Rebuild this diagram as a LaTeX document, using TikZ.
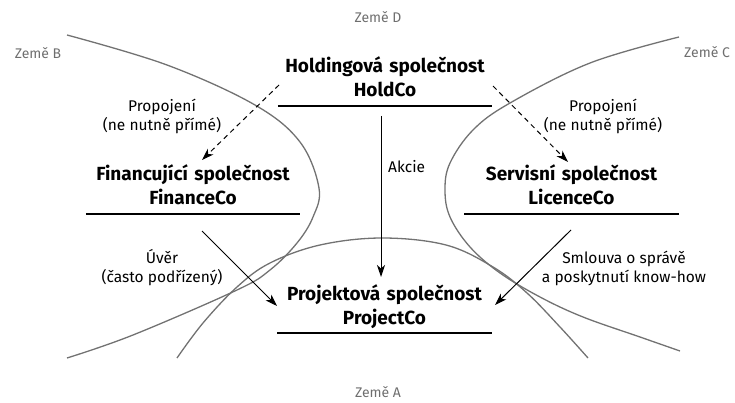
\documentclass[tikz,border=0pt]{standalone}
\usepackage{fontspec}
\setmainfont{Fira Sans}
\usetikzlibrary{arrows.meta,calc}
\definecolor{bordergray}{HTML}{727272}
\definecolor{countrytext}{HTML}{6E6E6E}

\begin{document}
\begin{tikzpicture}[x=1pt,y=-1pt,
  company/.style={font=\fontsize{19}{24}\selectfont\bfseries, text width=214pt,
                  align=center, inner sep=0pt, anchor=base},
  note/.style={font=\fontsize{15.5}{19}\selectfont, align=center, inner sep=0pt, anchor=base},
  country/.style={font=\fontsize{14}{16}\selectfont, text=countrytext, inner sep=0pt},
  border/.style={draw=bordergray, line width=1.3pt},
  underline/.style={line width=1.3pt},
  link/.style={line width=1pt, -{Stealth[length=12pt,width=8pt,inset=3.5pt]}},
  indirect/.style={link, dash pattern=on 5pt off 4pt},
]
\useasboundingbox (0,0) rectangle (735,403);

% country borders
\draw[border] plot[smooth, tension=0.6] coordinates {
  (67,35) (167,65) (255,105) (300,142) (319,188) (313,217)
  (297,243) (270,270) (237,290) (133,335) (67,358)};
\draw[border] plot[smooth, tension=0.6] coordinates {
  (679,37) (590,63) (510,103) (473,130) (450,163) (445,190) (450,217)
  (470,247) (500,273) (540,297) (583,317) (640,337) (680,351)};
\draw[border] plot[smooth, tension=0.6] coordinates {
  (177,358) (203,323) (237,287) (270,263) (320,245) (382,238) (446,245)
  (493,267) (527,293) (560,327) (588,358)};

% country names
\node[country] (zoneD) at (378,17) {Země D};
\node[country] (zoneB) at (38,53) {Země B};
\node[country] (zoneC) at (707,52) {Země C};
\node[country] (zoneA) at (378,392) {Země A};

% companies
\node[company] (hold) at (385,73) {Holdingová společnost\\HoldCo};
\node[company] (fin) at (193,181) {Financující společnost\\FinanceCo};
\node[company] (lic) at (571.5,181) {Servisní společnost\\LicenceCo};
\node[company] (proj) at (384.5,300) {Projektová společnost\\ProjectCo};
\foreach \n in {hold,fin,lic,proj}
  \draw[underline] ([yshift=-33pt]\n.base west) -- ([yshift=-33pt]\n.base east);

% relations
\draw[indirect] ([shift={(-106pt,-12pt)}]hold.base) -- ([shift={(9pt,21pt)}]fin.base);
\draw[indirect] ([shift={(108pt,-13pt)}]hold.base) -- ([shift={(-3.5pt,19pt)}]lic.base);
\draw[link] ([shift={(-4pt,-43pt)}]hold.base) -- ([shift={(-3.5pt,23pt)}]proj.base);
\draw[link] ([shift={(9pt,-50pt)}]fin.base) -- ([shift={(-107.5pt,-6pt)}]proj.base);
\draw[link] ([shift={(-0.5pt,-49pt)}]lic.base) -- ([shift={(110.5pt,-5pt)}]proj.base);

% relation labels (anchored at the baseline of their last line)
\node[note] (linkB) at (162,131) {Propojení\\(ne nutně přímé)};
\node[note] (linkC) at (603,131) {Propojení\\(ne nutně přímé)};
\node[note, anchor=base west] (shares) at (388,173) {Akcie};
\node[note] (loan) at (162,282) {Úvěr\\(často podřízený)};
\node[note] (service) at (624,282) {Smlouva o správě\\a poskytnutí know-how};
\end{tikzpicture}
\end{document}
